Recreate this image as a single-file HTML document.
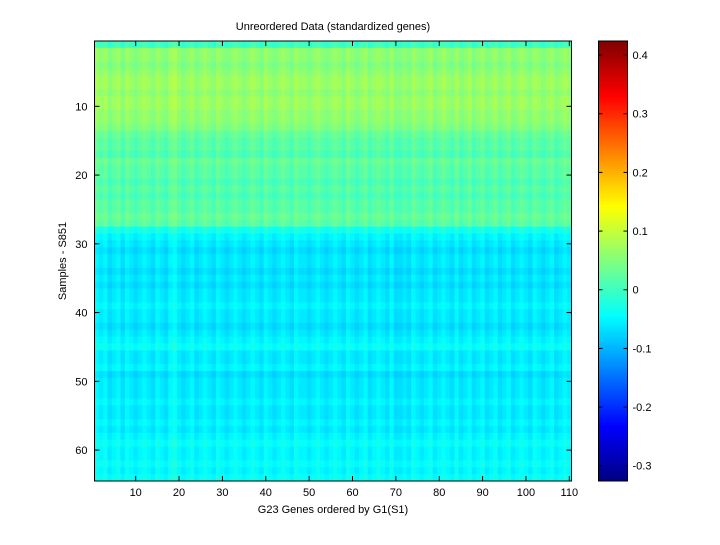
<!DOCTYPE html>
<html><head><meta charset="utf-8"><style>
body{margin:0;background:#fff;width:720px;height:540px;overflow:hidden}
svg text{font-family:"Liberation Sans",sans-serif;font-size:11px;fill:#000}
</style></head><body>
<svg id="c" width="720" height="540">
<text x="333" y="30" text-anchor="middle">Unreordered Data (standardized genes)</text>
<text x="333" y="513" text-anchor="middle">G23 Genes ordered by G1(S1)</text>
<text transform="translate(66,261) rotate(-90)" text-anchor="middle">Samples - S851</text>
<g id="cells"></g>
<g id="cbar"></g>
<g id="axes"></g>
</svg>
<script>
const rowMeans=[0.0,0.06,0.06,0.05,0.06,0.07,0.07,0.06,0.07,0.07,0.06,0.06,0.05,0.03,0.02,0.02,0.01,0.03,0.02,0.02,0.01,0.02,0.01,0.02,0.02,0.03,0.02,-0.03,-0.05,-0.06,-0.07,-0.06,-0.06,-0.07,-0.06,-0.07,-0.06,-0.06,-0.05,-0.06,-0.06,-0.07,-0.06,-0.05,-0.04,-0.06,-0.06,-0.05,-0.07,-0.06,-0.06,-0.06,-0.05,-0.06,-0.06,-0.05,-0.06,-0.05,-0.04,-0.05,-0.05,-0.04,-0.05,-0.04];
const colOffsets=[0.01,0,0.01,-0.01,0,0.01,-0.01,0.01,0,-0.01,0,0.01,0,-0.01,0.01,0,-0.01,0.01,0.02,0,-0.01,0,0.01,-0.01,0,0.01,0,-0.01,0.01,0,-0.01,0,0.01,0,-0.01,0,0.01,0,-0.01,0.01,0,-0.01,0,0.01,0,-0.01,0.01,0,0,-0.01,0,0.01,0,-0.01,0,0.01,0,-0.01,0.01,0,-0.01,0,0.01,-0.01,0,0.01,0,-0.01,0.01,-0.01,-0.01,0,-0.01,0.01,0,-0.01,0,0.01,-0.01,0,0.01,0,-0.01,0.01,-0.01,0,0.01,-0.01,0,0.01,-0.01,0,0.01,-0.01,0,0.01,-0.01,0,0.01,0,-0.01,0.01,0,-0.01,0,0.01,-0.01,0,0.01,0];
const xTicks=[10,20,30,40,50,60,70,80,90,100,110];
const yTicks=[10,20,30,40,50,60];
const cTicks=[-0.3,-0.2,-0.1,0,0.1,0.2,0.3,0.4];
const cTickLabels=["-0.3","-0.2","-0.1","0","0.1","0.2","0.3","0.4"];
const X0=94.5,X1=571.5,Y0=41,Y1=481,VMIN=-0.326,VMAX=0.424;
const nC=colOffsets.length,nR=rowMeans.length;
const xs=c=>X0+(c-0.5)*(X1-X0)/nC;
const ys=r=>Y0+(r-0.5)*(Y1-Y0)/nR;
const cy=v=>Y1-(v-VMIN)/(VMAX-VMIN)*(Y1-Y0);
function jet(v){let t=(v-VMIN)/(VMAX-VMIN);t=Math.max(0,Math.min(1,t));
const f=a=>Math.round(255*Math.max(0,Math.min(1,1.5-Math.abs(4*t-a))));
return `rgb(${f(3)},${f(2)},${f(1)})`;}
const NS="http://www.w3.org/2000/svg";
function mk(tag,attrs,parent){const e=document.createElementNS(NS,tag);for(const k in attrs)e.setAttribute(k,attrs[k]);parent.appendChild(e);return e;}
const cells=document.getElementById('cells');
const cw=(X1-X0)/nC,ch=(Y1-Y0)/nR;
for(let r=0;r<nR;r++)for(let c=0;c<nC;c++){
 const v=rowMeans[r]+colOffsets[c];
 const e=mk('rect',{x:xs(c+0.5),y:ys(r+0.5),width:cw+0.4,height:ch+0.4,fill:jet(v)},cells);
 
 
}
const ax=document.getElementById('axes');
mk('rect',{x:X0,y:Y0,width:X1-X0,height:Y1-Y0,fill:'none',stroke:'#000','stroke-width':1},ax);
xTicks.forEach(t=>{const x=xs(t);
 mk('line',{x1:x,x2:x,y1:Y1,y2:Y1-5,stroke:'#000'},ax);mk('line',{x1:x,x2:x,y1:Y0,y2:Y0+5,stroke:'#000'},ax);
 const tx=mk('text',{x:x,y:Y1+15,'text-anchor':'middle'},ax);tx.textContent=t;
 
 });
yTicks.forEach(t=>{const y=ys(t);
 mk('line',{x1:X0,x2:X0+5,y1:y,y2:y,stroke:'#000'},ax);mk('line',{x1:X1,x2:X1-5,y1:y,y2:y,stroke:'#000'},ax);
 const tx=mk('text',{x:X0-7,y:y+4,'text-anchor':'end'},ax);tx.textContent=t;
 
 });
const cb=document.getElementById('cbar');const CX0=598.5,CX1=627.5;
for(let i=0;i<220;i++){const y=Y0+i*(Y1-Y0)/220;const v=VMAX-(i+0.5)/220*(VMAX-VMIN);
 mk('rect',{x:CX0,y:y,width:CX1-CX0,height:(Y1-Y0)/220+0.5,fill:jet(v)},cb);}
mk('rect',{x:CX0,y:Y0,width:CX1-CX0,height:Y1-Y0,fill:'none',stroke:'#000'},cb);
cTicks.forEach((t,i)=>{const y=cy(t);
 mk('line',{x1:CX0,x2:CX0+4,y1:y,y2:y,stroke:'#000'},cb);mk('line',{x1:CX1,x2:CX1-4,y1:y,y2:y,stroke:'#000'},cb);
 const tx=mk('text',{x:CX1+5,y:y+4},cb);tx.textContent=cTickLabels[i];
 
 });
</script>
</body></html>
